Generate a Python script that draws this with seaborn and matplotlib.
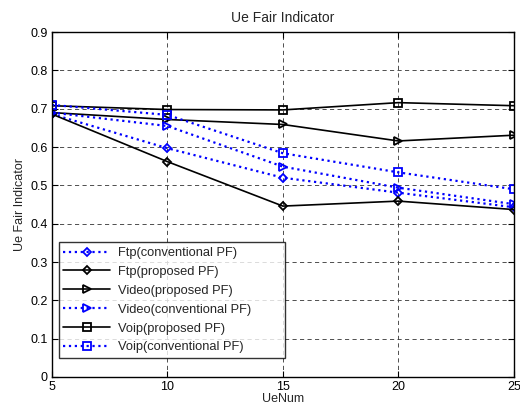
import numpy as np
import pandas as pd
import matplotlib
matplotlib.use('Agg')
import matplotlib.pyplot as plt
import seaborn as sns

# ── DATA ──────────────────────────────────────────────────────────────────────
ue_num = [5, 10, 15, 20, 25]

ftp_conv   = [0.686, 0.597, 0.520, 0.481, 0.443]
ftp_prop   = [0.686, 0.562, 0.446, 0.459, 0.437]
video_prop = [0.690, 0.672, 0.659, 0.616, 0.631]
video_conv = [0.690, 0.655, 0.549, 0.494, 0.451]
voip_prop  = [0.708, 0.698, 0.697, 0.716, 0.708]
voip_conv  = [0.710, 0.684, 0.584, 0.534, 0.490]

series = [
    ('Ftp(conventional PF)',   ftp_conv,   'blue',  ':', 'D'),
    ('Ftp(proposed PF)',       ftp_prop,   'black', '-', 'D'),
    ('Video(proposed PF)',     video_prop, 'black', '-', '>'),
    ('Video(conventional PF)', video_conv, 'blue',  ':', '>'),
    ('Voip(proposed PF)',      voip_prop,  'black', '-', 's'),
    ('Voip(conventional PF)',  voip_conv,  'blue',  ':', 's'),
]

# ── PLOT ──────────────────────────────────────────────────────────────────────
sns.set_style('white')
plt.rcParams['font.family'] = ['Liberation Sans', 'DejaVu Sans']

fig = plt.figure(figsize=(5.2, 4.12), dpi=100)
ax = fig.add_axes([0.1, 0.085, 0.888, 0.837])

for name, vals, col, ls, mk in series:
    df = pd.DataFrame({'UeNum': ue_num, 'val': vals})
    ms = 4.5 if mk == 'D' else 6
    sns.lineplot(data=df, x='UeNum', y='val', ax=ax, color=col,
                 linestyle=ls, linewidth=1.6 if col == 'blue' else 1.2,
                 marker=mk, markersize=ms, markerfacecolor='none',
                 markeredgecolor=col, markeredgewidth=1.3, label=name)

ax.set_xlim(5, 25)
ax.set_ylim(0, 0.9)
ax.set_xticks([5, 10, 15, 20, 25])
ax.set_yticks(np.arange(0, 0.91, 0.1))
ax.set_yticklabels(['0'] + [f'{v:.1f}' for v in np.arange(0.1, 0.91, 0.1)])
ax.grid(True, color='#333333', linestyle=(0, (5, 4)), linewidth=0.6)
ax.tick_params(direction='in', length=4, labelsize=9, colors='black', pad=3,
               bottom=True, left=True, top=True, right=True)
for sp in ax.spines.values():
    sp.set_edgecolor('black')
    sp.set_linewidth(1.0)

ax.set_title('Ue Fair Indicator', fontsize=10, pad=7)
ax.set_xlabel('UeNum', fontsize=9, labelpad=0)
ax.set_ylabel('Ue Fair Indicator', fontsize=9, labelpad=3)

# MATLAB-style legend: wide box with empty room to the right of the text
leg = ax.legend(loc='lower left', bbox_to_anchor=(0.015, 0.055, 0.49, 0),
                mode='expand', fontsize=9.3,
                frameon=True, fancybox=False, edgecolor='black',
                handlelength=3.6, handletextpad=0.6, borderpad=0.35,
                labelspacing=0.53, borderaxespad=0)
leg.get_frame().set_linewidth(1.0)

plt.savefig('out.png', dpi=100)
